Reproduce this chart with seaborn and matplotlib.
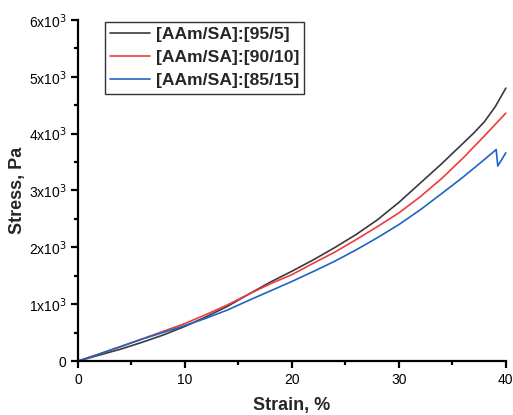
import numpy as np
import pandas as pd
import matplotlib
matplotlib.use("Agg")
import matplotlib.pyplot as plt
import seaborn as sns
from matplotlib.ticker import MultipleLocator, FuncFormatter

# Stress-strain data
strain_95_5 = [0, 2, 4, 6, 8, 10, 12, 14, 16, 18, 20, 22, 24, 26, 28, 30, 32, 34, 36, 37, 38, 39, 40]
stress_95_5 = [0, 105, 210, 330, 460, 610, 780, 965, 1180, 1390, 1580, 1780, 1995, 2225, 2485,
               2790, 3130, 3470, 3830, 4010, 4210, 4470, 4800]
strain_90_10 = [0, 2, 4, 6, 8, 10, 12, 14, 16, 18, 20, 22, 24, 26, 28, 30, 32, 34, 36, 38, 40]
stress_90_10 = [0, 125, 255, 390, 525, 660, 820, 990, 1180, 1360, 1520, 1720, 1915, 2135, 2365,
                2605, 2890, 3210, 3570, 3960, 4360]
strain_85_15 = [0, 2, 4, 6, 8, 10, 12, 14, 16, 18, 20, 22, 24, 26, 28, 30, 32, 34, 36, 38,
                39.1, 39.25, 40]
stress_85_15 = [0, 125, 255, 385, 505, 625, 755, 900, 1070, 1235, 1400, 1575, 1755, 1955, 2170,
                2400, 2660, 2945, 3235, 3545, 3720, 3430, 3663]

labels = ["[AAm/SA]:[95/5]", "[AAm/SA]:[90/10]", "[AAm/SA]:[85/15]"]
colors = ["#3a3a3a", "#ef3b3e", "#1f63c4"]

sns.set_style("ticks")
plt.rcParams["font.family"] = ["Liberation Sans", "DejaVu Sans"]

fig = plt.figure(figsize=(5.13, 4.15), dpi=100)
ax = fig.add_axes([0.152, 0.130, 0.834, 0.822])

series = [(strain_95_5, stress_95_5), (strain_90_10, stress_90_10), (strain_85_15, stress_85_15)]
for (x, y), lab, col in zip(series, labels, colors):
    sns.lineplot(x=x, y=y, ax=ax, color=col, linewidth=1.2, label=lab,
                 sort=False, estimator=None, clip_on=False)

ax.set_xlim(0, 40)
ax.set_ylim(0, 6000)
ax.xaxis.set_major_locator(MultipleLocator(10))
ax.xaxis.set_minor_locator(MultipleLocator(5))
ax.yaxis.set_major_locator(MultipleLocator(1000))
ax.yaxis.set_minor_locator(MultipleLocator(500))

def yfmt(v, pos):
    if v == 0:
        return "0"
    return r"%dx10$^3$" % round(v / 1000)

ax.yaxis.set_major_formatter(FuncFormatter(yfmt))

for s in ["top", "right"]:
    ax.spines[s].set_visible(False)
for s in ["left", "bottom"]:
    ax.spines[s].set_linewidth(1.6)
    ax.spines[s].set_color("black")

ax.tick_params(which="major", direction="out", length=5, width=1.6, labelsize=10, colors="black")
ax.tick_params(which="minor", direction="out", length=3, width=1.6, colors="black")

ax.set_xlabel("Strain, %", fontsize=13, fontweight="bold", labelpad=7)
ax.set_ylabel("Stress, Pa", fontsize=13, fontweight="bold", labelpad=2)

leg = ax.legend(loc="upper left", bbox_to_anchor=(0.063, 0.995), borderaxespad=0,
                prop={"weight": "bold", "size": 12.6}, frameon=True, fancybox=False,
                handlelength=2.3, handletextpad=0.3, labelspacing=0.45,
                borderpad=0.3)
leg.get_frame().set_edgecolor("black")
leg.get_frame().set_linewidth(1.0)

fig.savefig("out.png", dpi=100)
